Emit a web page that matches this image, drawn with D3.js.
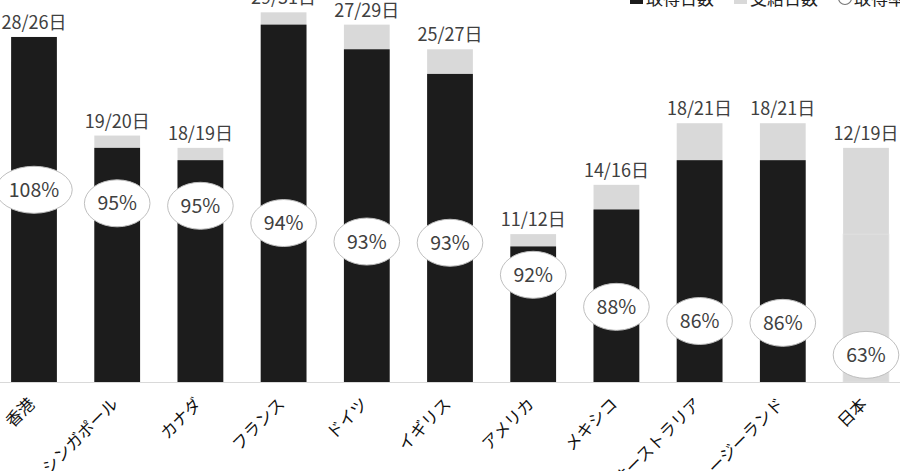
<!DOCTYPE html>
<html>
<head>
<meta charset="utf-8">
<script src="https://cdn.jsdelivr.net/npm/d3@7"></script>
<style>
  body { margin: 0; background: #fff; }
  svg { display: block; font-family: "Noto Sans CJK JP", "Noto Sans", sans-serif; }
</style>
</head>
<body>
<div id="chart"></div>
<script>
// 国別の有給休暇 取得日数 / 支給日数 / 取得率
var countries = ["香港", "シンガポール", "カナダ", "フランス", "ドイツ", "イギリス",
                 "アメリカ", "メキシコ", "オーストラリア", "ニュージーランド", "日本"];
var takenDays = [28, 19, 18, 29, 27, 25, 11, 14, 18, 18, 12];
var givenDays = [26, 20, 19, 30, 29, 27, 12, 16, 21, 21, 19];   // 棒の高さ（図から読んだ値）
var dayLabels = ["28/26日", "19/20日", "18/19日", "29/31日", "27/29日", "25/27日",
                 "11/12日", "14/16日", "18/21日", "18/21日", "12/19日"];
var rateLabels = ["108%", "95%", "95%", "94%", "93%", "93%", "92%", "88%", "86%", "86%", "63%"];
// 取得率の楕円が置かれている高さ（日数の目盛りで読んだ値）
var rateLevel = [15.6, 14.5, 14.3, 12.9, 11.4, 11.3, 8.7, 6.1, 4.95, 4.8, 2.2];
var legendItems = ["取得日数", "支給日数", "取得率"];

var width = 900, height = 471;
var baseY = 382;

var svg = d3.select("#chart").append("svg")
    .attr("width", width)
    .attr("height", height);

var x = d3.scaleBand()
    .domain(countries)
    .range([-7.6, 907.6])
    .paddingInner(0.45)
    .paddingOuter(0.225);

var y = d3.scaleLinear()
    .domain([0, 31])
    .range([baseY, 0]);

var data = countries.map(function(c, i) {
    return { name: c, taken: takenDays[i], given: givenDays[i],
             label: dayLabels[i], rate: rateLabels[i], level: rateLevel[i] };
});

// 支給日数（グレー）
svg.selectAll(".given")
    .data(data)
    .enter()
    .append("rect")
    .attr("class", "given")
    .attr("x", function(d) { return x(d.name); })
    .attr("width", x.bandwidth())
    .attr("y", function(d) { return y(d.given); })
    .attr("height", function(d) { return baseY - y(d.given); })
    .style("fill", "#d9d9d9");

// 取得日数（黒、日本だけグレー）
svg.selectAll(".taken")
    .data(data)
    .enter()
    .append("rect")
    .attr("class", "taken")
    .attr("x", function(d) { return x(d.name); })
    .attr("width", x.bandwidth())
    .attr("y", function(d) { return y(d.taken); })
    .attr("height", function(d) { return baseY - y(d.taken); })
    .style("fill", function(d) { return d.name == "日本" ? "#d9d9d9" : "#1c1c1c"; })
    .style("stroke", function(d) { return d.name == "日本" ? "#e2e2e2" : "none"; })
    .style("stroke-width", 0.8);

// 軸
var axis = svg.append("g")
    .attr("transform", "translate(0," + baseY + ")")
    .call(d3.axisBottom(x).tickSize(0).tickPadding(0));
axis.select(".domain").style("stroke", "#d9d9d9").style("stroke-width", 1.2);
axis.selectAll("text")
    .attr("text-anchor", "end")
    .attr("dy", 0)
    .attr("transform", "translate(2,23) rotate(-45)")
    .style("font-size", "16.5px")
    .style("fill", "#111")
    .style("font-family", "\"Noto Sans CJK JP\", sans-serif");

// 日数ラベル
svg.selectAll(".dayLabel")
    .data(data)
    .enter()
    .append("text")
    .attr("class", "dayLabel")
    .text(function(d) { return d.label; })
    .attr("x", function(d) { return x(d.name) + x.bandwidth() / 2; })
    .attr("y", function(d) { return y(Math.max(d.taken, d.given)) - 8; })
    .attr("text-anchor", "middle")
    .style("font-size", "18px")
    .style("fill", "#404040");

// 取得率の楕円
var rateG = svg.selectAll(".rate")
    .data(data)
    .enter()
    .append("g")
    .attr("class", "rate")
    .attr("transform", function(d) {
        return "translate(" + (x(d.name) + x.bandwidth() / 2) + "," + y(d.level) + ")";
    });

var ell = rateG.append("ellipse")
    .attr("ry", 23.5)
    .style("fill", "#fff")
    .style("stroke", "#bfbfbf")
    .style("stroke-width", 1);

var rateText = rateG.append("text")
    .text(function(d) { return d.rate; })
    .attr("text-anchor", "middle")
    .attr("dy", "0.36em")
    .style("font-size", "19.5px")
    .style("fill", "#404040");

rateText.each(function(d) {
    d.tw = this.getComputedTextLength();
});
ell.attr("rx", function(d) { return d.tw / 2 + 13; });

// 凡例
var lx = 630;
var legendMarks = ["rect-dark", "rect-light", "circle"];
legendItems.forEach(function(t, i) {
    var m = legendMarks[i];
    if (m == "circle") {
        svg.append("circle").attr("cx", lx + 7).attr("cy", -2).attr("r", 6.5)
            .style("fill", "#fff").style("stroke", "#777").style("stroke-width", 1.2);
    } else {
        svg.append("rect").attr("x", lx).attr("y", -9).attr("width", 13).attr("height", 13)
            .style("fill", m == "rect-dark" ? "#1c1c1c" : "#d9d9d9");
    }
    var tx = svg.append("text")
        .attr("x", lx + 16)
        .attr("y", 5)
        .text(t)
        .style("font-size", "17px")
        .style("fill", "#222");
    lx += 16 + tx.node().getComputedTextLength() + 20;
});
</script>
</body>
</html>
